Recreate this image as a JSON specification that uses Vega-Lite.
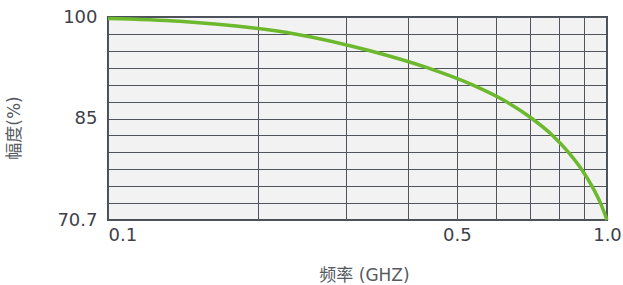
{
  "$schema": "https://vega.github.io/schema/vega-lite/v6.json",
  "autosize": "none",
  "padding": {"left": 108, "top": 17, "right": 16, "bottom": 65},
  "width": 499,
  "height": 203,
  "background": "white",
  "config": {
    "view": {"fill": "#f2f2f2", "stroke": "#4b4f58", "strokeWidth": 2},
    "axis": {"domain": false, "ticks": false, "gridColor": "#50545c", "gridWidth": 1, "gridOpacity": 1}
  },
  "data": {
    "values": [
      {"f": 0.1, "amp": 99.8},
      {"f": 0.1394, "amp": 99.4},
      {"f": 0.196, "amp": 98.4},
      {"f": 0.237, "amp": 97.56},
      {"f": 0.335, "amp": 95.12},
      {"f": 0.4359, "amp": 92.68},
      {"f": 0.5362, "amp": 90.23},
      {"f": 0.6276, "amp": 87.79},
      {"f": 0.7072, "amp": 85.35},
      {"f": 0.7778, "amp": 82.91},
      {"f": 0.8373, "amp": 80.47},
      {"f": 0.889, "amp": 78.03},
      {"f": 0.9331, "amp": 75.58},
      {"f": 0.9705, "amp": 73.14},
      {"f": 1.0, "amp": 70.7}
    ]
  },
  "mark": {"type": "line", "interpolate": "monotone", "color": "#6cb92e", "strokeWidth": 3.5, "clip": false},
  "encoding": {
    "x": {
      "field": "f",
      "type": "quantitative",
      "scale": {"type": "log", "domain": [0.1, 1], "nice": false},
      "axis": {
        "title": "频率 (GHZ)",
        "titleFont": "DejaVu Sans, Noto Sans CJK SC",
        "titleFontSize": 17,
        "titleFontWeight": "normal",
        "titleColor": "#555a61",
        "titleX": 256,
        "titleY": 55,
        "titleBaseline": "middle",
        "titleAlign": "center",
        "values": [0.1, 0.2, 0.3, 0.4, 0.5, 0.6, 0.7, 0.8, 0.9, 1],
        "labelExpr": "datum.value == 0.1 ? '0.1' : datum.value == 0.5 ? '0.5' : datum.value == 1 ? '1.0' : ''",
        "labelAlign": {"condition": {"test": "datum.value == 0.1", "value": "left"}, "value": "center"},
        "labelBaseline": "top",
        "labelPadding": 6,
        "labelFont": "DejaVu Sans",
        "labelFontSize": 18,
        "labelColor": "#3d4149",
        "labelOverlap": false,
        "labelFlush": false,
        "labelBound": false,
        "grid": true
      }
    },
    "y": {
      "field": "amp",
      "type": "quantitative",
      "scale": {"domain": [70.7, 100], "nice": false, "zero": false},
      "axis": {
        "title": "幅度(%)",
        "titleFont": "DejaVu Sans, Noto Sans CJK SC",
        "titleFontSize": 17,
        "titleFontWeight": "normal",
        "titleColor": "#555a61",
        "titleX": -94,
        "titleY": 110.5,
        "titleAngle": -90,
        "titleBaseline": "middle",
        "titleAlign": "center",
        "values": [70.7, 73.1417, 75.5833, 78.025, 80.4667, 82.9083, 85.35, 87.7917, 90.2333, 92.675, 95.1167, 97.5583, 100],
        "labelExpr": "datum.value > 99.9 ? '100' : datum.value < 70.8 ? '70.7' : abs(datum.value - 85.35) < 0.01 ? '85' : ''",
        "labelPadding": 11,
        "labelFont": "DejaVu Sans",
        "labelFontSize": 18,
        "labelColor": "#3d4149",
        "labelOverlap": false,
        "labelBound": false,
        "labelFlush": false,
        "grid": true
      }
    }
  }
}
